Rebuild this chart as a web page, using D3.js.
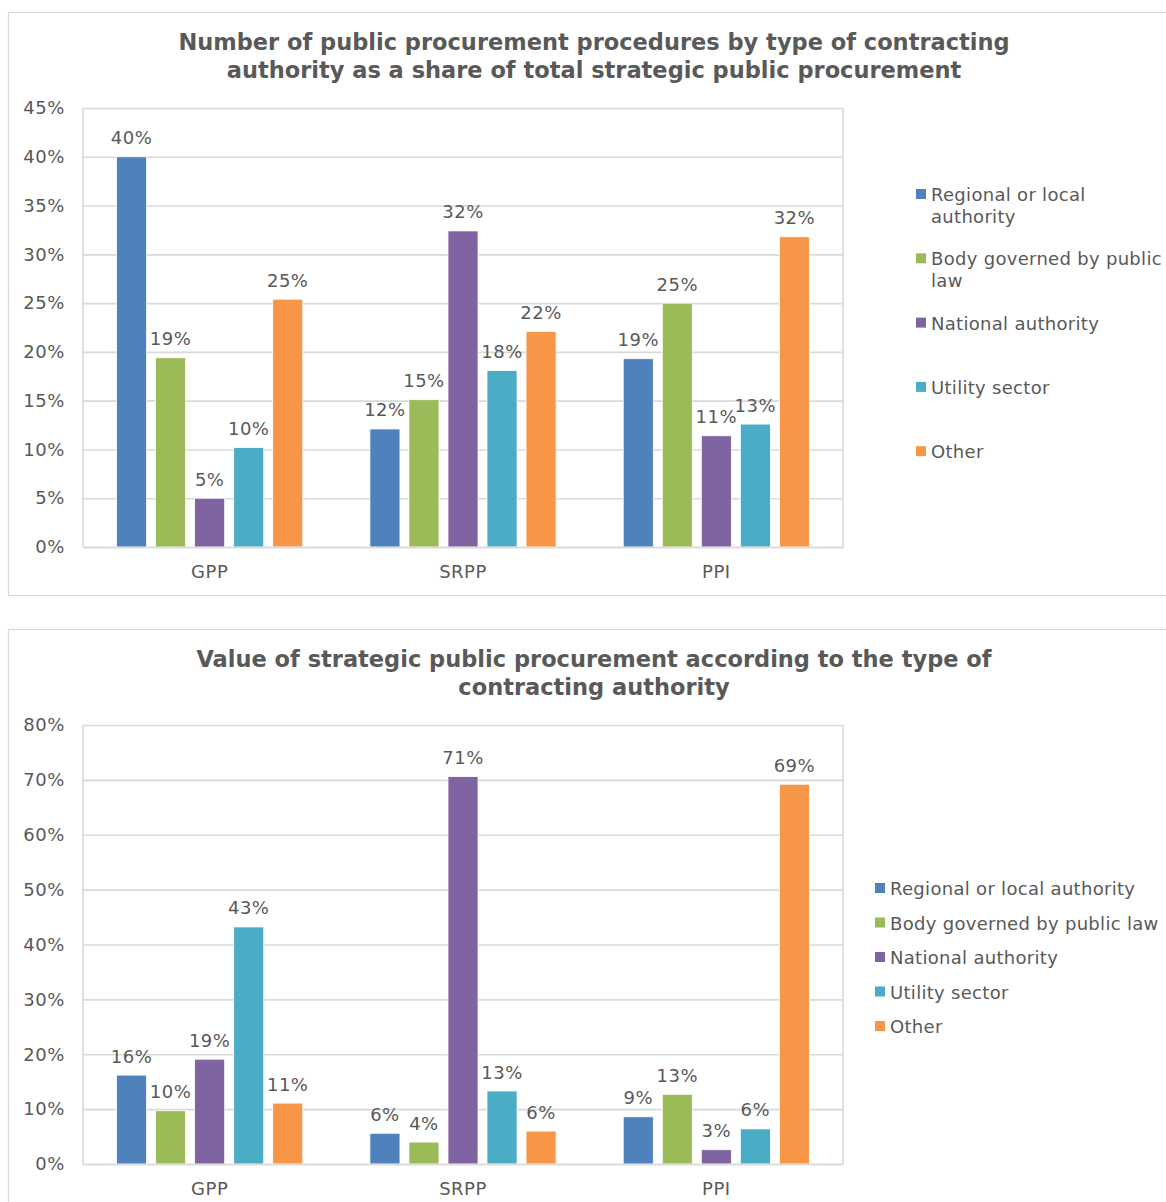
<!DOCTYPE html>
<html>
<head>
<meta charset="utf-8">
<script src="https://cdn.jsdelivr.net/npm/d3@7"></script>
<style>
  body { margin: 0; background: #fff; }
  text { font-family: "DejaVu Sans", Verdana, sans-serif; fill: #595959; }
</style>
</head>
<body>
<div id="charts"></div>
<script>
// categories and series
const groups = ["GPP", "SRPP", "PPI"];
const seriesNames = ["Regional or local authority", "Body governed by public law",
    "National authority", "Utility sector", "Other"];
const seriesColors = ["#4F81BD", "#9BBB59", "#8064A2", "#4BACC6", "#F79646"];

// chart 1: number of procedures (% share), one row per group
const countGPP = [40.0, 19.4, 5.0, 10.2, 25.4];
const countSRPP = [12.1, 15.1, 32.4, 18.1, 22.1];
const countPPI = [19.3, 25.0, 11.4, 12.6, 31.8];
const countTicks = [0, 5, 10, 15, 20, 25, 30, 35, 40, 45];

// chart 2: value (% share)
const valueGPP = [16.2, 9.7, 19.1, 43.2, 11.1];
const valueSRPP = [5.6, 4.0, 70.6, 13.3, 6.0];
const valuePPI = [8.6, 12.7, 2.6, 6.4, 69.2];
const valueTicks = [0, 10, 20, 30, 40, 50, 60, 70, 80];

const W = 1166, H = 1202;
const svg = d3.select("#charts").append("svg")
    .attr("width", W).attr("height", H);

function drawChart(top, title, rows, ticks, legend) {
    var g = svg.append("g").attr("transform", "translate(0," + top + ")");

    // outer frame
    g.append("rect")
        .attr("x", 8.5).attr("y", 0.5)
        .attr("width", 1170).attr("height", 583)
        .style("fill", "none").style("stroke", "#D9D9D9").attr("stroke-width", 1.2);

    // title
    g.selectAll("text.title")
        .data(title)
        .enter().append("text")
        .attr("class", "title")
        .attr("x", 594).attr("y", (d, i) => 38 + i * 28)
        .attr("text-anchor", "middle")
        .style("font-size", "22.5px").style("font-weight", "bold")
        .text(d => d);

    var plot = { left: 83, right: 843, top: 96, bottom: 535 };
    var width = plot.right - plot.left, height = plot.bottom - plot.top;
    var p = g.append("g").attr("transform", "translate(" + plot.left + "," + plot.top + ")");

    var y = d3.scaleLinear()
        .domain([0, d3.max(ticks)])
        .range([height, 0]);

    // gridlines + tick labels
    var yAxis = p.append("g")
        .call(d3.axisLeft(y).tickValues(ticks).tickSize(-width).tickPadding(18)
            .tickFormat(d => d + "%"));
    yAxis.select(".domain").remove();
    yAxis.selectAll("line").style("stroke", "#D9D9D9").attr("stroke-width", 1.6);
    yAxis.selectAll("text").style("font-size", "18px").style("fill", "#595959")
        .style("letter-spacing", "0.6px")
        .attr("font-family", "DejaVu Sans, Verdana, sans-serif");

    // plot border (left / right)
    p.append("line").attr("x1", 0).attr("x2", 0).attr("y1", 0).attr("y2", height)
        .style("stroke", "#D9D9D9").attr("stroke-width", 1.6);
    p.append("line").attr("x1", width).attr("x2", width).attr("y1", 0).attr("y2", height)
        .style("stroke", "#D9D9D9").attr("stroke-width", 1.6);

    var x0 = d3.scaleBand().domain(groups).range([0, width]).padding(0);
    var x1 = d3.scaleBand().domain(seriesNames).range([0, x0.bandwidth()])
        .paddingInner(0.23).paddingOuter(0.86);

    var data = [];
    groups.forEach(function (grp, gi) {
        rows[gi].forEach(function (v, si) {
            data.push({ group: grp, series: seriesNames[si], color: seriesColors[si], value: v });
        });
    });

    p.selectAll("rect.bar")
        .data(data)
        .enter().append("rect")
        .attr("class", "bar")
        .attr("x", d => x0(d.group) + x1(d.series))
        .attr("y", d => y(d.value))
        .attr("width", x1.bandwidth())
        .attr("height", d => height - y(d.value))
        .style("fill", d => d.color)
        .style("stroke", "#fff").attr("stroke-width", 0.8);

    p.selectAll("text.lbl")
        .data(data)
        .enter().append("text")
        .attr("class", "lbl")
        .attr("x", d => x0(d.group) + x1(d.series) + x1.bandwidth() / 2)
        .attr("y", d => y(d.value) - 12.5)
        .attr("text-anchor", "middle")
        .style("font-size", "18px").style("letter-spacing", "0.5px")
        .text(d => Math.round(d.value) + "%");

    // bottom axis line + category labels
    var xAxis = p.append("g")
        .attr("transform", "translate(0," + height + ")")
        .call(d3.axisBottom(x0).tickSize(0).tickPadding(18));
    xAxis.select(".domain").style("stroke", "#D9D9D9").attr("stroke-width", 1.6);
    xAxis.selectAll("text").style("font-size", "18px").style("fill", "#595959")
        .style("letter-spacing", "0.5px")
        .attr("font-family", "DejaVu Sans, Verdana, sans-serif");

    // legend
    var leg = g.append("g");
    legend.items.forEach(function (lines, i) {
        var by = legend.y0 + i * legend.step;
        leg.append("rect")
            .attr("x", legend.x).attr("y", by - 12)
            .attr("width", 10).attr("height", 10)
            .style("fill", seriesColors[i]);
        var t = leg.append("text")
            .attr("x", legend.x + 15).attr("y", by)
            .style("font-size", "18px").style("letter-spacing", "0.3px");
        lines.forEach(function (ln, li) {
            t.append("tspan").attr("x", legend.x + 15).attr("dy", li === 0 ? 0 : 22).text(ln);
        });
    });
}

drawChart(12,
    ["Number of public procurement procedures by type of contracting",
     "authority as a share of total strategic public procurement"],
    [countGPP, countSRPP, countPPI], countTicks,
    { x: 916, y0: 189, step: 64.3,
      items: [["Regional or local", "authority"], ["Body governed by public", "law"],
              ["National authority"], ["Utility sector"], ["Other"]] });

drawChart(629,
    ["Value of strategic public procurement according to the type of",
     "contracting authority"],
    [valueGPP, valueSRPP, valuePPI], valueTicks,
    { x: 875, y0: 266, step: 34.5,
      items: seriesNames.map(s => [s]) });
</script>
</body>
</html>
